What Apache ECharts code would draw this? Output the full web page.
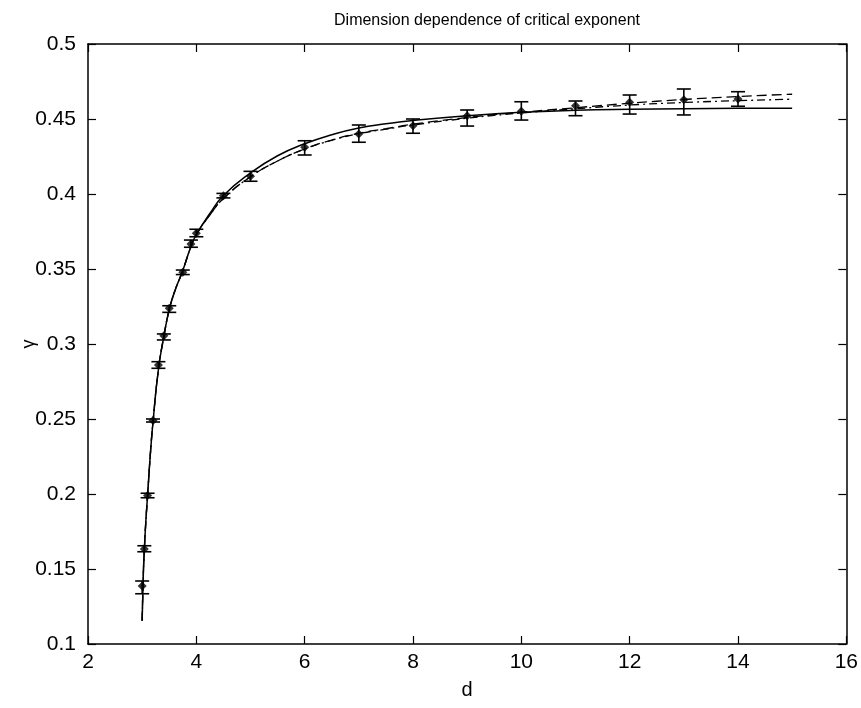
<!DOCTYPE html>
<html>
<head>
<meta charset="utf-8">
<script src="https://cdn.jsdelivr.net/npm/echarts@6/dist/echarts.min.js"></script>
<style>html,body{margin:0;padding:0;background:#fff}#c{width:861px;height:708px}</style>
</head>
<body>
<div id="c"></div>
<script>
// Measured data points (dimension d, exponent gamma) with error bar bounds
var dVals   = [3, 3.04, 3.1, 3.2, 3.3, 3.4, 3.5, 3.75, 3.9, 4, 4.5, 5, 6, 7, 8, 9, 10, 11, 12, 13, 14];
var gamma   = [0.1387, 0.1633, 0.1990, 0.2490, 0.2860, 0.3055, 0.3238, 0.3478, 0.3667, 0.3738, 0.3989, 0.4118, 0.4311, 0.4400, 0.4455, 0.4522, 0.4551, 0.4589, 0.4611, 0.4629, 0.4633];
var errLow  = [0.1335, 0.1615, 0.1975, 0.2480, 0.2838, 0.3027, 0.3211, 0.3463, 0.3645, 0.3715, 0.3974, 0.4085, 0.4260, 0.4345, 0.4405, 0.4453, 0.4493, 0.4522, 0.4533, 0.4527, 0.4585];
var errHigh = [0.1420, 0.1655, 0.2005, 0.2500, 0.2882, 0.3067, 0.3255, 0.3493, 0.3693, 0.3765, 0.4004, 0.4151, 0.4355, 0.4460, 0.4500, 0.4560, 0.4615, 0.4620, 0.4660, 0.4700, 0.4682];

// Fitted curves
var fitD      = [3, 3.02, 3.04, 3.07, 3.1, 3.15, 3.2, 3.3, 3.4, 3.5, 3.6, 3.75, 3.9, 4, 4.25, 4.5, 5, 5.5, 6, 6.5, 7, 7.5, 8, 9, 10, 11, 12, 13, 14, 15];
var fitSolid  = [0.1155, 0.145, 0.163, 0.183, 0.199, 0.226, 0.248, 0.283, 0.305, 0.323, 0.335, 0.349, 0.365, 0.373, 0.387, 0.399, 0.4140, 0.4255, 0.4335, 0.4395, 0.4440, 0.4468, 0.4490, 0.4522, 0.4545, 0.4558, 0.4565, 0.4569, 0.4571, 0.4572];
var fitDash   = [0.1155, 0.145, 0.163, 0.183, 0.199, 0.226, 0.248, 0.283, 0.305, 0.323, 0.335, 0.349, 0.365, 0.373, 0.386, 0.397, 0.4115, 0.4220, 0.4300, 0.4360, 0.4405, 0.4435, 0.4465, 0.4510, 0.4545, 0.4575, 0.4605, 0.4630, 0.4650, 0.4665];
var fitDash2  = [0.1155, 0.145, 0.163, 0.183, 0.199, 0.226, 0.248, 0.283, 0.305, 0.323, 0.335, 0.349, 0.365, 0.373, 0.386, 0.397, 0.4115, 0.4220, 0.4300, 0.4358, 0.4402, 0.4432, 0.4460, 0.4505, 0.4540, 0.4568, 0.4593, 0.4610, 0.4622, 0.4632];

var xTicks = {min: 2, max: 16, interval: 2};
var yTicks = {min: 0.1, max: 0.5, interval: 0.05};

var titleText = 'Dimension dependence of critical exponent';
var xName = 'd';
var yName = 'γ';

function zip(a, b) { return a.map(function (v, i) { return [v, b[i]]; }); }
var errData = dVals.map(function (d, i) { return [d, errLow[i], errHigh[i]]; });

var FONT = "'Liberation Sans', Arial, sans-serif";
var chart = echarts.init(document.getElementById('c'), null, {renderer: 'canvas'});
var axisLineStyle = {color: '#000', width: 1.5};
chart.setOption({
  animation: false,
  backgroundColor: '#fff',
  title: {
    text: titleText, left: 482, top: 8, textAlign: 'center',
    textStyle: {fontFamily: FONT, fontSize: 16, fontWeight: 'normal', color: '#000'}
  },
  grid: {left: 88, right: 11, top: 44, bottom: 64, containLabel: false},
  xAxis: [{
    type: 'value', min: xTicks.min, max: xTicks.max, interval: xTicks.interval, position: 'bottom',
    axisLine: {show: true, onZero: false, lineStyle: axisLineStyle},
    axisTick: {show: true, inside: true, length: 8, lineStyle: {color: '#000', width: 1.2}},
    axisLabel: {color: '#000', fontFamily: FONT, fontSize: 21, margin: 8},
    splitLine: {show: false},
    name: xName, nameLocation: 'middle', nameGap: 36, nameMoveOverlap: false,
    nameTextStyle: {color: '#000', fontFamily: FONT, fontSize: 20}
  }, {
    type: 'value', min: xTicks.min, max: xTicks.max, interval: xTicks.interval, position: 'top',
    axisLine: {show: true, onZero: false, lineStyle: axisLineStyle},
    axisTick: {show: true, inside: true, length: 8, lineStyle: {color: '#000', width: 1.2}},
    axisLabel: {show: false}, splitLine: {show: false}
  }],
  yAxis: [{
    type: 'value', min: yTicks.min, max: yTicks.max, interval: yTicks.interval, position: 'left',
    axisLine: {show: true, onZero: false, lineStyle: axisLineStyle},
    axisTick: {show: true, inside: true, length: 8, lineStyle: {color: '#000', width: 1.2}},
    axisLabel: {color: '#000', fontFamily: FONT, fontSize: 21, margin: 12,
      formatter: function (v) { return String(+v.toFixed(2)); }},
    splitLine: {show: false},
    name: yName, nameLocation: 'middle', nameGap: 50, nameMoveOverlap: false,
    nameTextStyle: {color: '#000', fontFamily: FONT, fontSize: 18}
  }, {
    type: 'value', min: yTicks.min, max: yTicks.max, interval: yTicks.interval, position: 'right',
    axisLine: {show: true, onZero: false, lineStyle: axisLineStyle},
    axisTick: {show: true, inside: true, length: 8, lineStyle: {color: '#000', width: 1.2}},
    axisLabel: {show: false}, splitLine: {show: false}
  }],
  series: [
    {type: 'line', data: zip(fitD, fitSolid), showSymbol: false, smooth: true,
     lineStyle: {color: '#000', width: 1.5, type: 'solid'}, z: 3},
    {type: 'line', data: zip(fitD, fitDash), showSymbol: false, smooth: true,
     lineStyle: {color: '#000', width: 1.3, type: [10, 5]}, z: 3},
    {type: 'line', data: zip(fitD, fitDash2), showSymbol: false, smooth: true,
     lineStyle: {color: '#000', width: 1.3, type: [8, 4, 2, 4]}, z: 3},
    {type: 'custom', data: errData, z: 4,
     renderItem: function (params, api) {
       var x = api.value(0);
       var lo = api.coord([x, api.value(1)]);
       var hi = api.coord([x, api.value(2)]);
       var w = 7;
       var st = {stroke: '#000', lineWidth: 1.6};
       return {type: 'group', children: [
         {type: 'line', shape: {x1: lo[0], y1: lo[1], x2: hi[0], y2: hi[1]}, style: st},
         {type: 'line', shape: {x1: lo[0] - w, y1: lo[1], x2: lo[0] + w, y2: lo[1]}, style: st},
         {type: 'line', shape: {x1: hi[0] - w, y1: hi[1], x2: hi[0] + w, y2: hi[1]}, style: st}
       ]};
     }},
    {type: 'scatter', data: zip(dVals, gamma), symbol: 'diamond', symbolSize: 9,
     itemStyle: {color: '#000'}, z: 5}
  ]
});
</script>
</body>
</html>
